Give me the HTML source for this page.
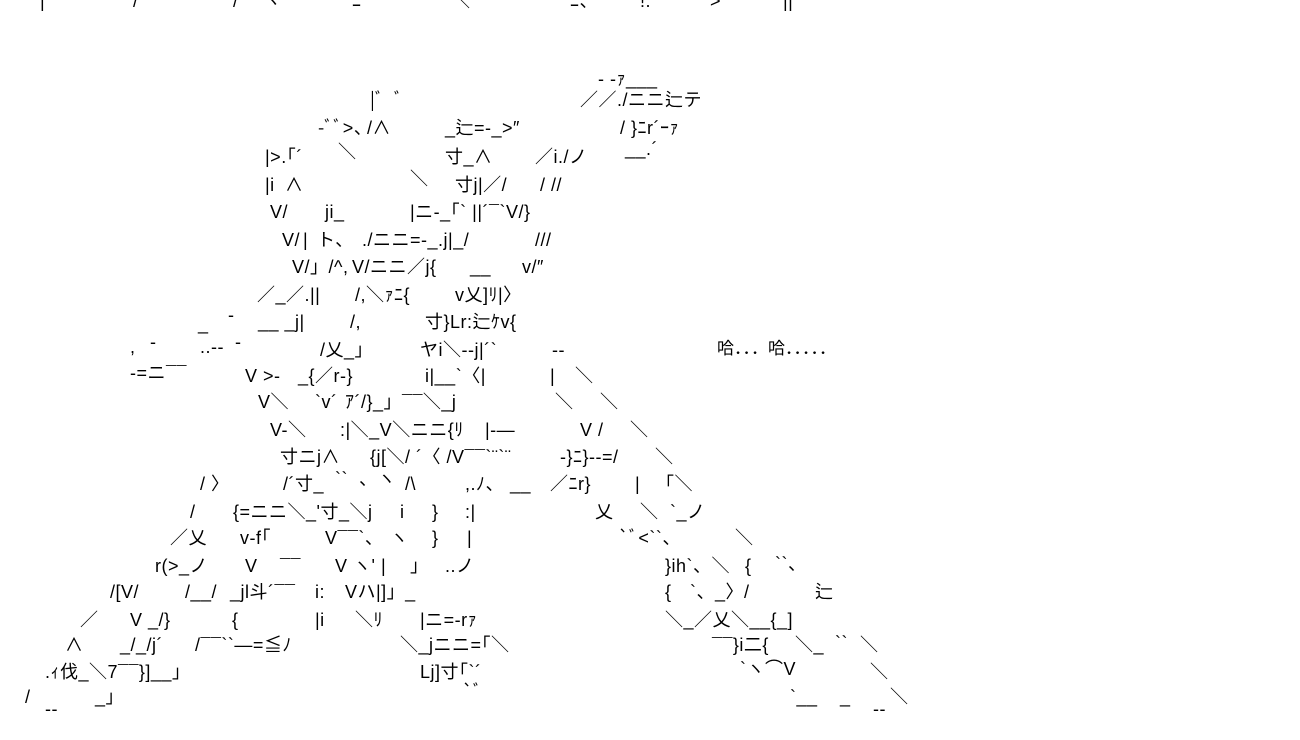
<!DOCTYPE html>
<html><head><meta charset="utf-8">
<style>
html,body{margin:0;padding:0;background:#fff;}
body{width:1300px;height:740px;position:relative;overflow:hidden;}
.t{position:absolute;white-space:pre;font-size:18px;line-height:18px;letter-spacing:0.5px;color:#000;font-family:"Liberation Sans","Noto Sans CJK JP",sans-serif;}
</style></head><body>
<div class="t" style="left:18px;top:-8px">″</div>
<div class="t" style="left:40px;top:-8px">|</div>
<div class="t" style="left:133px;top:-8px">/</div>
<div class="t" style="left:233px;top:-8px">/</div>
<div class="t" style="left:263px;top:-8px">ヽ</div>
<div class="t" style="left:352px;top:-8px">ﾆ</div>
<div class="t" style="left:452px;top:-8px">＼</div>
<div class="t" style="left:570px;top:-8px">ﾆ、</div>
<div class="t" style="left:640px;top:-8px">!.</div>
<div class="t" style="left:710px;top:-8px">&gt;</div>
<div class="t" style="left:783px;top:-8px">||</div>

<div class="t" style="left:598px;top:70px">‐ ‐ｧ___</div>
<div class="t" style="left:370px;top:91px">|ﾞ  ﾞ</div>
<div class="t" style="left:580px;top:91px">／／./ニニ辷テ</div>

<div class="t" style="left:318px;top:119px">-ﾞﾞ&gt;、</div>
<div class="t" style="left:367px;top:119px">/∧</div>
<div class="t" style="left:445px;top:119px">_辷=-_&gt;″</div>
<div class="t" style="left:620px;top:119px">/ }ﾆr´ｰｧ</div>

<div class="t" style="left:265px;top:148px">|&gt;.｢´</div>
<div class="t" style="left:338px;top:143px">＼</div>
<div class="t" style="left:445px;top:148px">寸_∧</div>
<div class="t" style="left:535px;top:148px">／i./ノ</div>
<div class="t" style="left:625px;top:140px">__.´</div>

<div class="t" style="left:265px;top:176px">|i</div>
<div class="t" style="left:285px;top:176px">∧</div>
<div class="t" style="left:410px;top:170px">＼</div>
<div class="t" style="left:455px;top:176px">寸j|／/</div>
<div class="t" style="left:540px;top:176px">/ //</div>

<div class="t" style="left:270px;top:203px">V/</div>
<div class="t" style="left:325px;top:203px">ji_</div>
<div class="t" style="left:410px;top:203px">|ニ-_｢` ||´¯`V/}</div>

<div class="t" style="left:282px;top:231px">V/</div>
<div class="t" style="left:303px;top:231px">|</div>
<div class="t" style="left:317px;top:231px">ト、</div>
<div class="t" style="left:362px;top:231px">./ニニ=-_.j|_/</div>
<div class="t" style="left:535px;top:231px">///</div>

<div class="t" style="left:292px;top:258px">V/」/^,</div>
<div class="t" style="left:352px;top:258px">V/ニニ／j{</div>
<div class="t" style="left:470px;top:258px">__</div>
<div class="t" style="left:522px;top:258px">v/″</div>

<div class="t" style="left:257px;top:286px">／_／.||</div>
<div class="t" style="left:355px;top:286px">/,＼ｧﾆ{</div>
<div class="t" style="left:455px;top:286px">v乂]ﾘ|〉</div>

<div class="t" style="left:228px;top:306px">-</div>
<div class="t" style="left:198px;top:315px">_</div>
<div class="t" style="left:258px;top:313px">__ _j|</div>
<div class="t" style="left:350px;top:313px">/,</div>
<div class="t" style="left:425px;top:313px">寸}Lr:辷ｹv{</div>

<div class="t" style="left:130px;top:338px">,</div>
<div class="t" style="left:150px;top:333px">-</div>
<div class="t" style="left:200px;top:338px">..--</div>
<div class="t" style="left:235px;top:333px">-</div>
<div class="t" style="left:320px;top:341px">/乂_」</div>
<div class="t" style="left:420px;top:341px">ヤi＼-‐j|´`</div>
<div class="t" style="left:552px;top:341px">--</div>
<div class="t" style="left:717px;top:340px;font-size:17px;letter-spacing:0">哈．．．哈．．．．．</div>

<div class="t" style="left:130px;top:364px">‐=ニ¯¯</div>
<div class="t" style="left:245px;top:367px">V &gt;-</div>
<div class="t" style="left:298px;top:367px">_{／r-}</div>
<div class="t" style="left:425px;top:367px">i|__`〈|</div>
<div class="t" style="left:550px;top:367px">|</div>
<div class="t" style="left:575px;top:367px">＼</div>

<div class="t" style="left:258px;top:393px">V＼</div>
<div class="t" style="left:315px;top:393px">`v´</div>
<div class="t" style="left:345px;top:393px">ｱ´/}_」¯¯＼_j</div>
<div class="t" style="left:555px;top:393px">＼</div>
<div class="t" style="left:600px;top:393px">＼</div>

<div class="t" style="left:270px;top:421px">V-＼</div>
<div class="t" style="left:340px;top:421px">:|＼_V＼ニニ{ﾘ</div>
<div class="t" style="left:485px;top:421px">|-―</div>
<div class="t" style="left:580px;top:421px">V /</div>
<div class="t" style="left:630px;top:421px">＼</div>

<div class="t" style="left:280px;top:448px">寸ニj∧</div>
<div class="t" style="left:370px;top:448px">{j[＼/ ´〈 /V¯¯`¨`¨</div>
<div class="t" style="left:560px;top:448px">-}ﾆ}--=/</div>
<div class="t" style="left:655px;top:448px">＼</div>

<div class="t" style="left:200px;top:475px">/ 〉</div>
<div class="t" style="left:283px;top:475px">/´寸_</div>
<div class="t" style="left:335px;top:470px">``  、ヽ</div>
<div class="t" style="left:405px;top:475px">/\</div>
<div class="t" style="left:465px;top:475px">,.ﾉ、</div>
<div class="t" style="left:510px;top:475px">__</div>
<div class="t" style="left:550px;top:475px">／ﾆr}</div>
<div class="t" style="left:635px;top:475px">|</div>
<div class="t" style="left:665px;top:475px">｢＼</div>

<div class="t" style="left:190px;top:503px">/</div>
<div class="t" style="left:233px;top:503px">{=ニニ＼_'寸_＼j</div>
<div class="t" style="left:400px;top:503px">i</div>
<div class="t" style="left:432px;top:503px">}</div>
<div class="t" style="left:465px;top:503px">:|</div>
<div class="t" style="left:595px;top:503px">乂</div>
<div class="t" style="left:640px;top:503px">＼</div>
<div class="t" style="left:670px;top:503px">`_ノ</div>

<div class="t" style="left:170px;top:529px">／乂</div>
<div class="t" style="left:240px;top:529px">v-f｢</div>
<div class="t" style="left:325px;top:529px">V¯¯`、</div>
<div class="t" style="left:390px;top:529px">ヽ</div>
<div class="t" style="left:432px;top:529px">}</div>
<div class="t" style="left:467px;top:529px">|</div>
<div class="t" style="left:618px;top:529px">`ﾞ&lt;``、</div>
<div class="t" style="left:735px;top:529px">＼</div>

<div class="t" style="left:155px;top:557px">r(&gt;_ノ</div>
<div class="t" style="left:245px;top:557px">V</div>
<div class="t" style="left:280px;top:557px">¯¯</div>
<div class="t" style="left:335px;top:557px">V ヽ' |</div>
<div class="t" style="left:410px;top:557px">」</div>
<div class="t" style="left:445px;top:557px">..ノ</div>
<div class="t" style="left:665px;top:557px">}ih`、＼</div>
<div class="t" style="left:745px;top:557px">{</div>
<div class="t" style="left:775px;top:555px">``、</div>

<div class="t" style="left:110px;top:583px">/[V/</div>
<div class="t" style="left:185px;top:583px">/__/</div>
<div class="t" style="left:230px;top:583px">_jl斗´¯¯</div>
<div class="t" style="left:315px;top:583px">i:</div>
<div class="t" style="left:345px;top:583px">Vハ|]」_</div>
<div class="t" style="left:665px;top:583px">{</div>
<div class="t" style="left:690px;top:583px">`、_〉/</div>
<div class="t" style="left:815px;top:583px">辷</div>

<div class="t" style="left:80px;top:611px">／</div>
<div class="t" style="left:130px;top:611px">V _/}</div>
<div class="t" style="left:232px;top:611px">{</div>
<div class="t" style="left:315px;top:611px">|i</div>
<div class="t" style="left:355px;top:611px">＼ﾘ</div>
<div class="t" style="left:420px;top:611px">|ニ=-rｧ</div>
<div class="t" style="left:665px;top:611px">＼_／乂＼__{_]</div>

<div class="t" style="left:65px;top:636px">∧</div>
<div class="t" style="left:120px;top:636px">_/_/j´</div>
<div class="t" style="left:195px;top:636px">/¯¯``―=≦ﾉ</div>
<div class="t" style="left:400px;top:636px">＼_jニニ=｢＼</div>
<div class="t" style="left:712px;top:636px">¯¯}i二{</div>
<div class="t" style="left:795px;top:636px">＼_</div>
<div class="t" style="left:835px;top:634px">``</div>
<div class="t" style="left:860px;top:636px">＼</div>

<div class="t" style="left:45px;top:663px">.ｨ伐_＼7¯¯}]__」</div>
<div class="t" style="left:420px;top:663px">Lj]寸｢`´</div>
<div class="t" style="left:740px;top:660px">`ヽ⌒V</div>
<div class="t" style="left:870px;top:663px">＼</div>

<div class="t" style="left:25px;top:688px">/</div>
<div class="t" style="left:95px;top:688px">_」</div>
<div class="t" style="left:462px;top:683px">`ﾞ</div>
<div class="t" style="left:790px;top:688px">`__</div>
<div class="t" style="left:840px;top:688px">_</div>
<div class="t" style="left:890px;top:688px">＼</div>

<div class="t" style="left:45px;top:700px">--</div>
<div class="t" style="left:873px;top:700px">--</div>
</body></html>
